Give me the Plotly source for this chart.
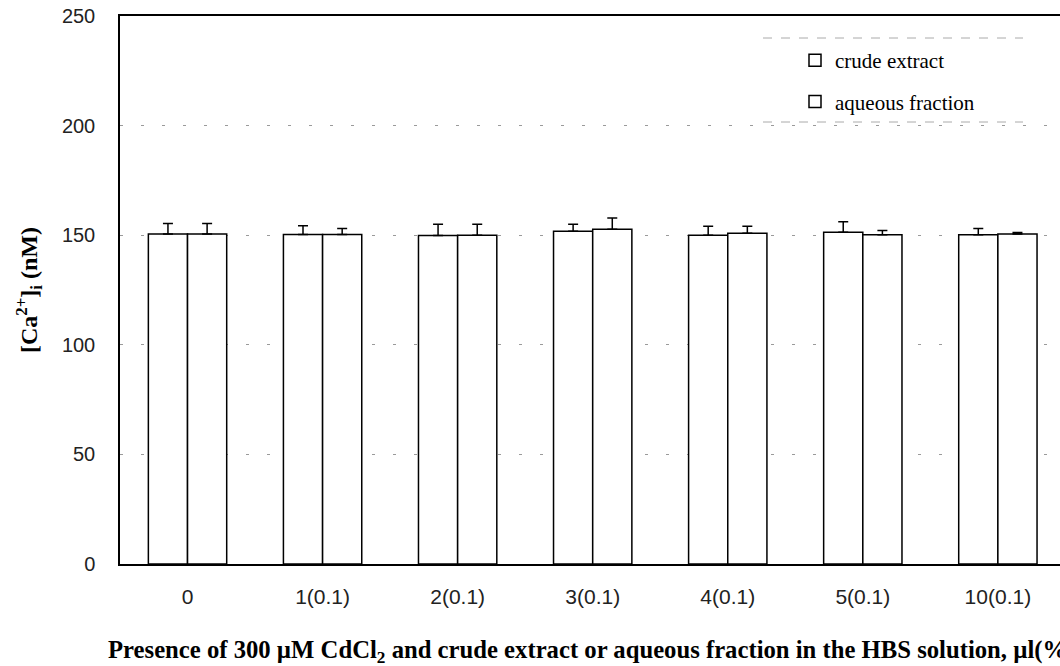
import plotly.graph_objects as go

categories = ["0", "1(0.1)", "2(0.1)", "3(0.1)", "4(0.1)", "5(0.1)", "10(0.1)"]
crude_values = [150.6, 150.3, 149.9, 151.8, 150.0, 151.4, 150.2]
crude_errors = [4.7, 4.0, 5.1, 3.2, 4.1, 4.7, 2.8]
aqueous_values = [150.6, 150.3, 150.0, 152.7, 150.9, 150.2, 150.6]
aqueous_errors = [4.7, 2.7, 5.0, 5.2, 3.2, 1.9, 0.6]
y_ticks = [0, 50, 100, 150, 200, 250]

x_pos = list(range(len(categories)))

W, H = 1060, 666
L, R, T, B = 120, 0, 16, 102
PW, PH = W - L - R, H - T - B


def px_x(p):
    return (p - L) / PW


def px_y(p):
    return (H - B - p) / PH


def bar_trace(name, vals, errs, group):
    return go.Bar(
        x=x_pos, y=vals, name=name, legendgroup=group,
        marker=dict(color="white", line=dict(color="black", width=1.5)),
        error_y=dict(type="data", symmetric=False, array=errs,
                     arrayminus=[0] * len(errs), color="black",
                     thickness=1.5, width=5),
    )


fig = go.Figure()
fig.add_trace(bar_trace("crude extract", crude_values, crude_errors, "g1"))
fig.add_trace(bar_trace("aqueous fraction", aqueous_values, aqueous_errors, "g2"))

fig.update_layout(
    width=W, height=H,
    margin=dict(l=L, r=R, t=T, b=B, pad=0),
    paper_bgcolor="white", plot_bgcolor="white",
    barmode="group", bargap=0.42, bargroupgap=0,
    font=dict(family="Liberation Sans, Arial, sans-serif", color="#222"),
    showlegend=True,
    legend=dict(
        x=px_x(795), y=px_y(40), xanchor="left", yanchor="top",
        bgcolor="rgba(0,0,0,0)", borderwidth=0,
        traceorder="grouped", tracegroupgap=11,
        font=dict(family="Liberation Serif, Times New Roman, serif", size=21, color="black"),
    ),
    xaxis=dict(
        range=[-0.5, 6.46], tickvals=x_pos, ticktext=categories,
        showgrid=False, zeroline=False, showline=True, mirror=True,
        linecolor="black", linewidth=1.5, ticks="",
        ticklabelstandoff=13,
        tickfont=dict(size=21, color="#222"),
    ),
    yaxis=dict(
        range=[0, 250], tickvals=y_ticks, showline=True, linecolor="black",
        linewidth=1.5, ticks="", zeroline=False,
        showgrid=True, gridcolor="#9a9a9a", gridwidth=1, griddash="3px,18px",
        ticklabelstandoff=19,
        tickfont=dict(size=20, color="#222"),
    ),
    annotations=[
        dict(
            text="<b>Presence of 300 \u00b5M CdCl<sub>2</sub> and crude extract or aqueous fraction in the HBS solution, \u00b5l(%)</b>",
            xref="paper", yref="paper", x=px_x(106), y=px_y(651),
            xanchor="left", yanchor="middle", showarrow=False,
            font=dict(family="Liberation Serif, Times New Roman, serif", size=24.7, color="black"),
        ),
        dict(
            text="<b>[Ca<sup>2+</sup>]<sub>i</sub> (nM)</b>",
            xref="paper", yref="paper", x=px_x(29), y=px_y(290),
            xanchor="center", yanchor="middle", textangle=-90, showarrow=False,
            font=dict(family="Liberation Serif, Times New Roman, serif", size=24, color="black"),
        ),
    ],
    shapes=[
        dict(type="line", xref="paper", yref="paper",
             x0=px_x(763), x1=px_x(1023), y0=px_y(38), y1=px_y(38),
             line=dict(color="#aaaaaa", width=1, dash="dash")),
        dict(type="line", xref="paper", yref="paper",
             x0=px_x(763), x1=px_x(1023), y0=px_y(122), y1=px_y(122),
             line=dict(color="#aaaaaa", width=1, dash="dash")),
    ],
)

fig.write_html("out.html")
